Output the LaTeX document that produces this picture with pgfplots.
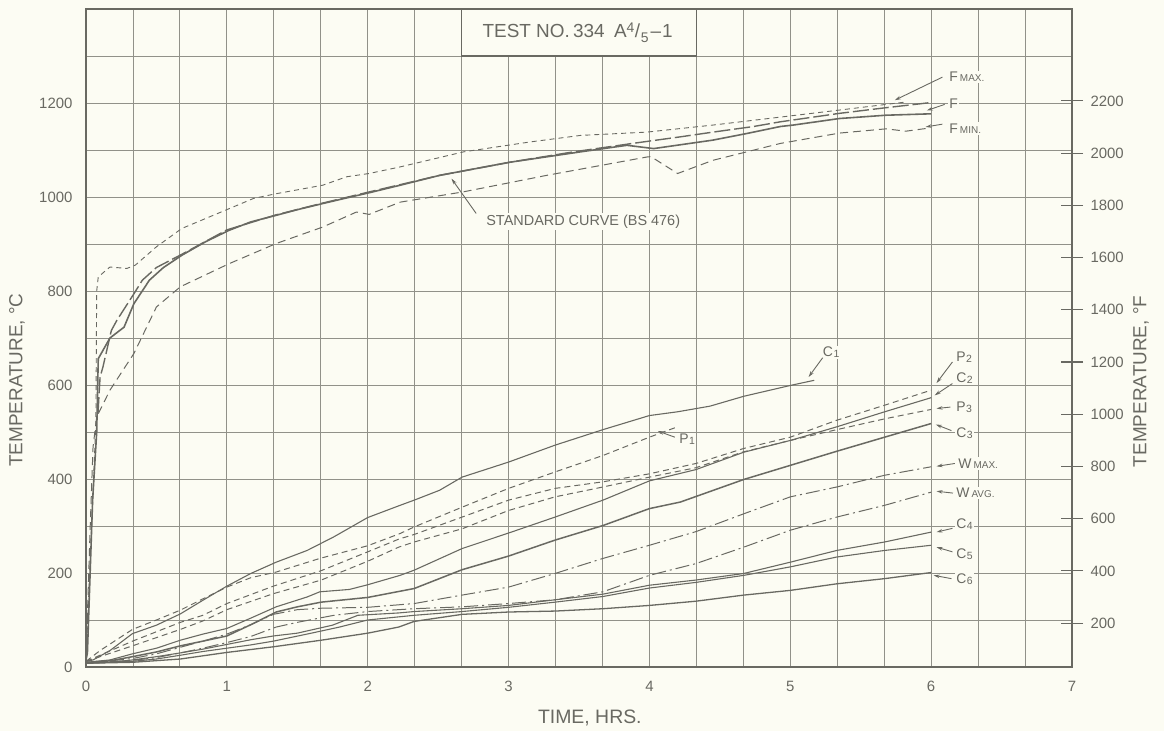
\documentclass[border=0pt]{standalone}
\usepackage{pgfplots}
\pgfplotsset{compat=1.18}
\usepackage{fontspec}
\setmainfont{Liberation Sans}
\usetikzlibrary{arrows.meta}
\definecolor{bg}{RGB}{252,252,243}
\definecolor{ink}{RGB}{105,105,98}
\definecolor{gridc}{RGB}{145,145,137}
\newcommand{\sm}[1]{{\fontsize{10}{10}\selectfont #1}}
\newcommand{\cl}[2]{#1\kern0.5bp\raisebox{-1bp}{\fontsize{10.5}{10.5}\selectfont #2}}
\tikzset{
  lbl/.style={font=\fontsize{14}{14}\selectfont, text=ink, fill=bg, inner sep=1.5bp, anchor=west},
  arr/.style={draw=ink, line width=0.9pt, -{Stealth[length=6bp,width=3.5bp]}},
  csolid/.style={draw=ink, line width=1.1pt},
  pdash/.style={draw=ink, line width=1.0pt, dash pattern=on 6bp off 4bp},
  wdash/.style={draw=ink, line width=1.0pt, dash pattern=on 14bp off 4bp on 2bp off 4bp},
}
\begin{document}
\begin{tikzpicture}
\path[use as bounding box, fill=bg] (-86bp,-64bp) rectangle (1078bp,667bp);
\begin{axis}[
  at={(0,0)}, anchor=south west, scale only axis, width=986bp, height=658bp,
  xmin=0, xmax=7, ymin=0, ymax=1400,
  axis line style={draw=ink, line width=1.4pt},
  xtick={0,1,...,7},
  minor xtick={0.33333,0.66667,1.33333,1.66667,2.33333,2.66667,3.33333,3.66667,4.33333,4.66667,5.33333,5.66667,6.33333,6.66667},
  ytick={0,200,...,1200},
  minor ytick={100,300,...,1300},
  grid=both,
  major grid style={draw=gridc, line width=0.9pt},
  minor grid style={draw=gridc, line width=0.9pt},
  major tick length=0pt, minor tick length=0pt,
  /pgf/number format/assume math mode=true,
  /pgf/number format/1000 sep={},
  tick label style={font=\fontsize{15}{15}\selectfont, text=ink},
  xticklabel style={yshift=-11bp},
  yticklabel style={xshift=-10bp},
  clip mode=individual,
]
% Furnace curves
\addplot[draw=ink, line width=1.6pt] coordinates {
(0,15)(0.01,30)(0.047,355)(0.076,500)(0.087,656)(0.17,700)(0.27,723)(0.34,773)(0.45,823)(0.55,850)(0.68,876)(0.85,905)(1.015,929)(1.17,947)(1.35,961)(1.5,973)(1.68,986)(1.85,998)(2.01,1009)(2.23,1025)(2.51,1046)(3.01,1074)(3.51,1096)(3.84,1110)(4.03,1103)(4.45,1121)(4.69,1135)(4.93,1150)(5.02,1153)(5.35,1167)(5.68,1174)(6.0,1177)};
\addplot[draw=ink, line width=1.4pt, dash pattern=on 16bp off 4bp] coordinates {
(0.085,540)(0.1,617)(0.12,638)(0.18,716)(0.22,738)(0.34,794)(0.40,823)(0.5,850)(0.68,878)(1.0,930)(1.35,962)(1.68,987)(2.0,1010)(2.51,1046)(3.01,1074)(3.46,1096)(3.88,1114)(4.22,1128)(4.45,1138)(4.74,1150)(4.93,1160)(5.35,1178)(5.68,1190)(6.0,1201)};
\addplot[draw=ink, line width=0.9pt, dash pattern=on 5bp off 4bp] coordinates {
(0,15)(0.04,300)(0.07,520)(0.076,800)(0.087,830)(0.17,851)(0.29,848)(0.35,855)(0.5,894)(0.68,933)(1.015,975)(1.19,997)(1.35,1007)(1.68,1025)(1.85,1043)(2.01,1050)(2.23,1064)(2.68,1096)(3.15,1117)(3.51,1131)(3.98,1138)(4.45,1153)(4.93,1170)(5.35,1185)(5.68,1197)(5.82,1202)};
\addplot[draw=ink, line width=1.0pt, dash pattern=on 8bp off 5bp] coordinates {
(0,15)(0.03,300)(0.05,468)(0.076,532)(0.17,589)(0.34,667)(0.5,766)(0.67,809)(1.015,858)(1.35,901)(1.68,936)(1.92,968)(2.01,963)(2.23,989)(2.68,1011)(3.27,1046)(3.98,1085)(4.01,1086)(4.2,1050)(4.45,1078)(4.93,1114)(5.35,1136)(5.68,1145)(5.82,1140)(5.97,1146)};
% C1
\addplot[csolid] coordinates {
(0,12)(0.05,15)(0.17,35)(0.33,71)(0.5,89)(0.67,113)(0.83,142)(1,172)(1.17,199)(1.35,223)(1.57,248)(1.76,277)(2,318)(2.23,344)(2.33,355)(2.51,376)(2.67,404)(3,436)(3.33,472)(3.67,505)(4,535)(4.2,543)(4.43,555)(4.67,576)(5,599)(5.17,610)};
% P1
\addplot[pdash] coordinates {
(0,12)(0.1,35)(0.33,80)(0.5,100)(0.67,121)(0.83,145)(1,170)(1.17,190)(1.35,202)(1.66,231)(2,258)(2.23,284)(2.33,298)(2.67,340)(3,380)(3.33,415)(3.67,450)(4,489)(4.19,510)};
% P2
\addplot[pdash] coordinates {
(0,12)(0.33,55)(0.67,95)(0.83,110)(1,135)(1.33,172)(1.67,205)(2,245)(2.22,272)(2.33,282)(2.67,319)(3,355)(3.33,380)(3.67,394)(4,411)(4.33,433)(4.67,465)(5,489)(5.33,525)(5.67,557)(6,589)};
% P3
\addplot[pdash] coordinates {
(0,12)(0.33,45)(0.67,80)(0.83,98)(1,122)(1.33,156)(1.67,185)(2,225)(2.22,255)(2.33,266)(2.67,294)(3,333)(3.33,362)(3.67,383)(4,404)(4.33,424)(4.67,458)(5,482)(5.33,505)(5.67,528)(6,548)};
% C2
\addplot[csolid] coordinates {
(0,10)(0.17,15)(0.33,28)(0.5,40)(0.67,57)(0.83,70)(1,82)(1.17,104)(1.35,128)(1.57,149)(1.66,160)(1.87,165)(2,175)(2.23,195)(2.33,206)(2.67,252)(3,285)(3.33,319)(3.67,355)(4,396)(4.33,420)(4.67,457)(5,482)(5.33,511)(5.67,543)(6,573)};
% C3
\addplot[draw=ink, line width=1.5pt] coordinates {
(0,10)(0.17,13)(0.33,22)(0.5,32)(0.67,45)(0.83,55)(1,66)(1.17,90)(1.35,117)(1.5,128)(1.67,138)(2,148)(2.33,167)(2.67,207)(3,236)(3.33,270)(3.67,301)(4,337)(4.22,351)(4.67,399)(5,429)(5.33,459)(5.67,489)(6,518)};
% W max
\addplot[wdash] coordinates {
(0,8)(0.33,18)(0.5,28)(0.67,42)(0.83,55)(1,70)(1.17,90)(1.33,112)(1.5,122)(1.67,125)(2,127)(2.33,135)(2.67,153)(3,170)(3.33,199)(3.67,231)(4,259)(4.33,288)(4.67,326)(5,362)(5.33,383)(5.67,408)(6,426)};
% W avg
\addplot[wdash] coordinates {
(0,8)(0.33,14)(0.5,20)(0.67,30)(0.83,40)(1,52)(1.17,65)(1.35,85)(1.5,95)(1.76,110)(2,118)(2.33,124)(2.67,128)(3,135)(3.33,143)(3.67,160)(4,195)(4.33,220)(4.67,255)(5,291)(5.33,319)(5.67,344)(6,372)};
% C4
\addplot[csolid] coordinates {
(0,8)(0.17,10)(0.33,15)(0.5,22)(0.67,30)(0.83,38)(1,48)(1.17,58)(1.33,66)(1.5,72)(1.75,89)(1.93,110)(2.22,115)(2.33,118)(2.67,124)(3,131)(3.33,143)(3.67,155)(4,174)(4.33,185)(4.67,199)(5,223)(5.33,248)(5.67,266)(6,287)};
% C5
\addplot[csolid] coordinates {
(0,8)(0.33,12)(0.5,17)(0.67,25)(0.83,33)(1,40)(1.17,47)(1.33,55)(1.6,72)(1.8,85)(2,100)(2.33,110)(2.67,118)(3,127)(3.33,138)(3.67,150)(4,168)(4.33,180)(4.67,195)(5,213)(5.33,234)(5.67,248)(6,259)};
% C6
\addplot[draw=ink, line width=1.3pt] coordinates {
(0,8)(0.33,10)(0.67,17)(1,31)(1.33,43)(1.67,57)(2,72)(2.22,85)(2.33,97)(2.67,112)(3,117)(3.33,119)(3.67,124)(4,131)(4.33,140)(4.67,153)(5,163)(5.33,177)(5.67,188)(6,201)};

% title box
\draw[draw=ink, line width=1.1pt, fill=bg] (axis cs:2.66667,1300) rectangle (axis cs:4.33333,1400);
\node[font=\fontsize{19}{19}\selectfont, text=ink] at (axis cs:3.49,1350) {TEST NO.\,334\enspace A\raisebox{5.5bp}{\fontsize{14}{14}\selectfont 4}\kern0.5bp/\kern0.5bp\raisebox{-4.5bp}{\fontsize{14}{14}\selectfont 5}\kern2bp--\kern1bp1};

% standard curve label
\node[lbl, anchor=center, font=\fontsize{14.5}{14.5}\selectfont] at (axis cs:3.53,948) {STANDARD CURVE (BS 476)};
\draw[arr] (axis cs:2.77,965) -- (axis cs:2.595,1039);

% furnace labels
\node[lbl] at (axis cs:6.118,1255) {F\kern2bp\sm{MAX.}};
\draw[arr] (axis cs:6.08,1255) -- (axis cs:5.742,1206);
\node[lbl] at (axis cs:6.118,1199) {F};
\draw[arr] (axis cs:6.096,1197) -- (axis cs:5.969,1184);
\node[lbl] at (axis cs:6.118,1146) {F\kern2bp\sm{MIN.}};
\draw[arr] (axis cs:6.08,1155) -- (axis cs:5.96,1149);

% specimen labels
\node[lbl] at (axis cs:5.22,669) {\cl{C}{1}};
\draw[arr] (axis cs:5.23,658) -- (axis cs:5.13,617);
\node[lbl] at (axis cs:4.2,484) {\cl{P}{1}};
\draw[arr] (axis cs:4.18,489) -- (axis cs:4.06,502);
\node[lbl] at (axis cs:6.167,659) {\cl{P}{2}};
\draw[arr] (axis cs:6.151,649) -- (axis cs:6.038,604);
\node[lbl] at (axis cs:6.167,614) {\cl{C}{2}};
\draw[arr] (axis cs:6.151,603) -- (axis cs:6.025,578);
\node[lbl] at (axis cs:6.167,553) {\cl{P}{3}};
\draw[arr] (axis cs:6.137,553) -- (axis cs:6.038,550);
\node[lbl] at (axis cs:6.167,497) {\cl{C}{3}};
\draw[arr] (axis cs:6.144,503) -- (axis cs:6.033,516);
\node[lbl] at (axis cs:6.182,433) {W\kern2bp\sm{MAX.}};
\draw[arr] (axis cs:6.168,433) -- (axis cs:6.038,427);
\node[lbl] at (axis cs:6.167,370) {W\kern2bp\sm{AVG.}};
\draw[arr] (axis cs:6.155,370) -- (axis cs:6.038,374);
\node[lbl] at (axis cs:6.167,303) {\cl{C}{4}};
\draw[arr] (axis cs:6.151,295) -- (axis cs:6.038,287);
\node[lbl] at (axis cs:6.167,241) {\cl{C}{5}};
\draw[arr] (axis cs:6.151,245) -- (axis cs:6.038,255);
\node[lbl] at (axis cs:6.167,186) {\cl{C}{6}};
\draw[arr] (axis cs:6.144,188) -- (axis cs:6.018,195);

% axis labels
\node[rotate=90, font=\fontsize{19}{19}\selectfont, text=ink] at ([xshift=-69bp]axis description cs:0,0.436) {TEMPERATURE, °C};
\node[font=\fontsize{19.5}{19.5}\selectfont, text=ink] at ([yshift=-51bp]axis description cs:0.511,0) {TIME, HRS.};
\node[rotate=90, font=\fontsize{19}{19}\selectfont, text=ink] at ([xshift=69bp]axis description cs:1,0.434) {TEMPERATURE, °F};
\end{axis}
\begin{axis}[
  at={(0,0)}, anchor=south west, scale only axis, width=986bp, height=658bp,
  xmin=0, xmax=7, ymin=32, ymax=2552,
  axis x line=none, axis y line*=right,
  axis line style={draw=ink, line width=1.4pt},
  ytick={200,400,...,2200},
  tick align=center, major tick length=22bp,
  major tick style={draw=ink, line width=1.1pt},
  /pgf/number format/assume math mode=true,
  /pgf/number format/1000 sep={},
  yticklabel style={font=\fontsize{15}{15}\selectfont, text=ink, xshift=4bp},
]
\end{axis}
\end{tikzpicture}
\end{document}
